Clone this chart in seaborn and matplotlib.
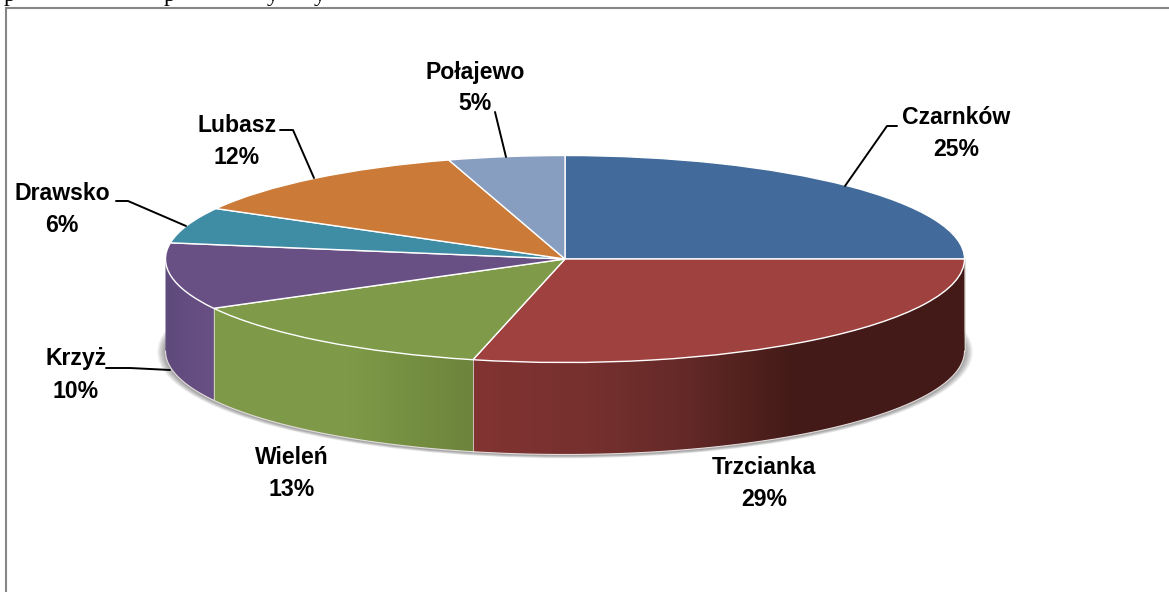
import numpy as np
import matplotlib
matplotlib.use("Agg")
import matplotlib.pyplot as plt
from matplotlib.patches import Polygon, Ellipse
from matplotlib.colors import to_rgb
import seaborn as sns

# === DATA ===
gminy = ["Czarnków", "Trzcianka", "Wieleń", "Krzyż", "Drawsko", "Lubasz", "Połajewo"]
udzial = [25.0, 28.7, 13.4, 10.4, 5.6, 12.2, 4.7]

# === STYLE ===
kolory = ["#426B9C", "#9E413F", "#7F9B49", "#695084", "#3F8CA5", "#CB7A37", "#889EC0"]
# wall gradient per slice: (x px, colour) stops
gradient = {
    "Trzcianka": [(472, "#823432"), (590, "#76302E"), (680, "#652A28"), (790, "#441B18"), (965, "#431A17")],
    "Wieleń": [(212, "#7F9B49"), (350, "#7E9A48"), (472, "#6C843B")],
    "Krzyż": [(165, "#5F4A7C"), (212, "#695084")],
}
etykiety_xy = {
    "Czarnków": (956, 117), "Trzcianka": (764, 467), "Wieleń": (292, 458), "Krzyż": (76, 359),
    "Drawsko": (62, 194), "Lubasz": (237, 125), "Połajewo": (475, 72),
}
odnosniki = [
    [(845, 186), (887, 126), (897, 126)],
    [(506, 157), (495, 112)],
    [(314, 178), (293, 130), (280, 130)],
    [(186, 226), (128, 201), (116, 201)],
    [(170, 370), (130, 368), (106, 368)],
]

W, H = 1169, 592
CX, CY, RX, RY, DEPTH = 565, 259, 399.5, 103.5, 92

sns.set_theme(style="white")
plt.rcParams["font.family"] = ["Liberation Sans", "DejaVu Sans"]

fig = plt.figure(figsize=(W / 100, H / 100), dpi=100)

# axes where the pie has radius 1, squashed to an ellipse
ax = fig.add_axes([0, 0, 1, 1])
ax.set_zorder(1)

# shadow under the disc
for i in range(8):
    ax.add_patch(Ellipse((0, -(DEPTH + 1) / RY), 2 * (1 + (8 - i) * 0.0026), 2 * (1 + (8 - i) * 0.0035),
                         fc="black", ec="none", alpha=0.05, zorder=0))

# walls
koniec = np.cumsum(udzial) / sum(udzial) * 360
start = np.r_[0, koniec[:-1]]
d = DEPTH / RY
for nazwa, a0, a1 in zip(gminy, start, koniec):
    lo, hi = max(a0, 90), min(a1, 270)
    if lo >= hi or nazwa not in gradient:
        continue
    t = np.radians(np.linspace(lo, hi, 120))
    x, y = np.sin(t), np.cos(t)
    poly = Polygon(np.r_[np.c_[x, y], np.c_[x[::-1], y[::-1] - d]], closed=True, fc="none", ec="none",
                   transform=ax.transData, zorder=1)
    ax.add_patch(poly)
    stops = gradient[nazwa]
    px = np.array([s[0] for s in stops], float)
    rgb = np.array([to_rgb(s[1]) for s in stops])
    xs = np.arange(px[0] - 8, px[-1] + 9)
    img = np.stack([np.interp(xs, px, rgb[:, k]) for k in range(3)], axis=1)[None, :, :]
    im = ax.imshow(img, extent=[(xs[0] - CX) / RX, (xs[-1] - CX) / RX, -2.2, 0.2], aspect="auto",
                   zorder=1, interpolation="bilinear")
    im.set_clip_path(poly)
    # light seam along the lower edge and between slices
    ax.plot(x, y - d, color="#E4DCDC", lw=0.8, zorder=1.5)
    if a0 >= 90:
        ax.plot([x[0], x[0]], [y[0], y[0] - d], color="#D8D8D0", lw=0.6, zorder=1.5)

# top of the disc
wedges, _ = ax.pie(udzial, colors=kolory, startangle=90, counterclock=False, radius=1,
                   wedgeprops={"edgecolor": "white", "linewidth": 1.0, "zorder": 2})
ax.set_aspect("auto")
ax.set_xlim(-CX / RX, (W - CX) / RX)
ax.set_ylim((CY - H) / RY, CY / RY)
ax.axis("off")

# overlay in picture pixels: frame, leaders, labels
ov = fig.add_axes([0, 0, 1, 1], facecolor="none")
ov.set_zorder(2)
ov.set_xlim(0, W)
ov.set_ylim(H, 0)
ov.axis("off")
ov.plot([5.5, 5.5, W], [H, 7.5, 7.5], color="#868686", lw=1.5, solid_joinstyle="miter")

for linia in odnosniki:
    xs, ys = zip(*linia)
    ov.plot(xs, ys, color="black", lw=1.4)

for nazwa, wartosc in zip(gminy, udzial):
    x, y = etykiety_xy[nazwa]
    ov.text(x, y, nazwa, ha="center", va="center", fontsize=16.6, fontweight="bold", color="black")
    ov.text(x, y + 32, f"{wartosc:.0f}%", ha="center", va="center", fontsize=16.6, fontweight="bold", color="black")

# cut-off line of body text above the chart
for znak, x in zip("ppyy", [10, 170, 273, 320]):
    ov.text(x, 0.5, znak, ha="center", va="baseline", fontsize=17, family="Liberation Serif",
            color="black", clip_on=True)

fig.savefig("out.png", dpi=100, facecolor="white")
